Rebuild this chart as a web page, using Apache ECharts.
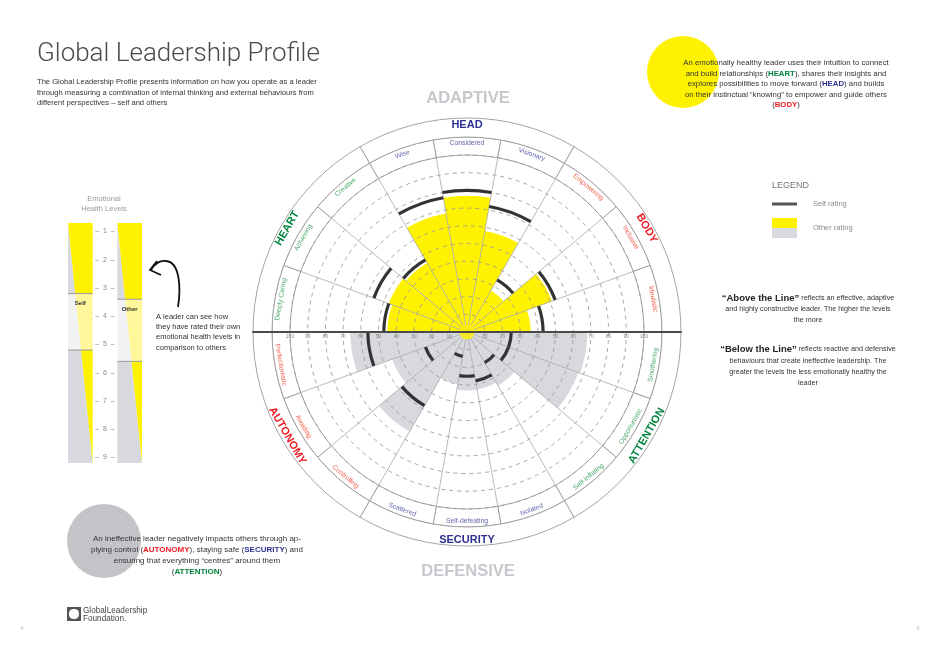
<!DOCTYPE html>
<html><head><meta charset="utf-8">
<script src="https://cdn.jsdelivr.net/npm/echarts@6.0.0/dist/echarts.min.js"></script>
<style>html,body{margin:0;padding:0;background:#fff}#c{width:940px;height:650px}</style>
</head><body><div id="c"></div>
<script>
// ---------------- DATA ----------------
const categories = ['Considered','Visionary','Empowering','Inclusive','Idealistic','Smothering','Opportunistic','Self-inflating','Isolated','Self-defeating','Scattered','Controlling','Avoiding','Perfectionistic','Deeply Caring','Achieving','Creative','Wise'];
const otherAbove = [77, 58, 27, 51, 36, '-', '-', '-', '-', '-', '-', '-', '-', '-', 45, 47, 45, 68];
const otherBelow = ['-', '-', '-', '-', '-', 68, 67, 35, 33, 33, 30, 65, 45, 66, '-', '-', '-', '-'];
const selfRating = [80, 72, 34, 53, 43, 25, 25, 20, 28, 25, 14, 48, 25, 56, 47, 56, 47, 77];
const groups = ['HEAD','BODY','ATTENTION','SECURITY','AUTONOMY','HEART'];
const radiusTicks = [10,20,30,40,50,60,70,80,90,100];
const levelTicks = [1,2,3,4,5,6,7,8,9];
const gaugeColumns = ['Self','Other'];
const gaugeBandTop = [3.2, 3.4];
const gaugeBandBottom = [5.2, 5.6];

// ---------------- STYLE ----------------
const FONT = '"Liberation Sans", Arial, Helvetica, sans-serif';
const YELLOW = '#fff200', GREY = '#d8d9de', DARK = '#333333';
const groupColors = ['#2e3192','#ed1c24','#00843d','#2e3192','#ed1c24','#00843d'];
const subColors = ['#6367ad','#f0604f','#4ea96e','#6367ad','#f0604f','#4ea96e'];
const CX = 467, CY = 332, R100 = 177, R_SUB = 195, R_OUT = 214;
const LEVEL_MIN = 0.7, LEVEL_MAX = 9.2;
const groupOf = i => Math.floor(((i + 1) % 18) / 3);

const chart = echarts.init(document.getElementById('c'), null, {renderer: 'canvas'});

function txt(x, y, text, size, color, opts) {
  opts = opts || {};
  return {
    type: 'text', x: x, y: y, silent: true, z: 20,
    style: Object.assign({
      text: text, fill: color,
      font: (opts.weight || 'normal') + ' ' + size + 'px ' + (opts.family || FONT),
      fontSize: size, fontFamily: opts.family || FONT, fontWeight: opts.weight || 'normal',
      align: opts.align || 'center', textAlign: opts.align || 'center',
      verticalAlign: 'middle', textVerticalAlign: 'middle'
    }, opts.rich ? {rich: opts.rich} : {})
  };
}
function richStyle(color, size) {
  return {fill: color, fontSize: size, fontFamily: FONT, fontWeight: 'bold'};
}
const R8 = {g: richStyle('#00843d', 8), b: richStyle('#2e3192', 8), r: richStyle('#ed1c24', 8)};
const R78 = {g: richStyle('#00843d', 7.8), b: richStyle('#2e3192', 7.8), r: richStyle('#ed1c24', 7.8)};
const RB = {h: {fill: '#222', fontSize: 9.5, fontFamily: FONT, fontWeight: 'bold'}};

const graphics = [
  txt(37, 54, 'Global Leadership Profile', 26, '#4a4a4a', {align: 'left', family: 'Roboto, ' + FONT, weight: '300'}),
  txt(37, 82, 'The Global Leadership Profile presents information on how you operate as a leader', 7.6, '#333', {align: 'left'}),
  txt(37, 92.5, 'through measuring a combination of internal thinking and external behaviours from', 7.6, '#333', {align: 'left'}),
  txt(37, 103, 'different perspectives – self and others', 7.6, '#333', {align: 'left'}),
  txt(CX + 1, 98, 'ADAPTIVE', 16.5, '#c6c8cd', {weight: 'bold'}),
  txt(CX + 1, 571, 'DEFENSIVE', 16.5, '#c6c8cd', {weight: 'bold'}),
  {type: 'circle', shape: {cx: 683, cy: 72, r: 36}, style: {fill: YELLOW}, z: 1, silent: true},
  txt(786, 63, 'An emotionally healthy leader uses their intuition to connect', 7.8, '#333'),
  txt(786, 73.5, 'and build relationships ({g|HEART}), shares their insights and', 7.8, '#333', {rich: R78}),
  txt(786, 84, 'explores possibilities to move forward ({b|HEAD}) and builds', 7.8, '#333', {rich: R78}),
  txt(786, 94.5, 'on their instinctual “knowing” to empower and guide others', 7.8, '#333'),
  txt(786, 105, '({r|BODY})', 7.8, '#333', {rich: R78}),
  {type: 'circle', shape: {cx: 104, cy: 541, r: 37}, style: {fill: '#c4c4c8'}, z: 1, silent: true},
  txt(197, 539, 'An ineffective leader negatively impacts others through ap-', 8, '#333'),
  txt(197, 550, 'plying control ({r|AUTONOMY}), staying safe ({b|SECURITY}) and', 8, '#333', {rich: R8}),
  txt(197, 561, 'ensuring that everything “centres” around them', 8, '#333'),
  txt(197, 571.5, '({g|ATTENTION})', 8, '#333', {rich: R8}),
  txt(772, 186, 'LEGEND', 9, '#777', {align: 'left'}),
  {type: 'line', shape: {x1: 772, y1: 204, x2: 797, y2: 204}, style: {stroke: '#555', lineWidth: 3}, silent: true},
  txt(813, 204, 'Self rating', 7.5, '#8a8a8a', {align: 'left'}),
  {type: 'rect', shape: {x: 772, y: 218, width: 25, height: 10}, style: {fill: YELLOW}, silent: true},
  {type: 'rect', shape: {x: 772, y: 228, width: 25, height: 10}, style: {fill: GREY}, silent: true},
  txt(813, 228, 'Other rating', 7.5, '#8a8a8a', {align: 'left'}),
  txt(808, 298, '{h|“Above the Line”} reflects an effective, adaptive', 7.2, '#333', {rich: RB}),
  txt(808, 309.5, 'and highly constructive leader. The higher the levels', 7.2, '#333'),
  txt(808, 320.5, 'the more', 7.2, '#333'),
  txt(808, 349.5, '{h|“Below the Line”} reflects reactive and defensive', 7.2, '#333', {rich: RB}),
  txt(808, 361, 'behaviours that create ineffective leadership. The', 7.2, '#333'),
  txt(808, 372, 'greater the levels the less emotionally healthy the', 7.2, '#333'),
  txt(808, 383, 'leader', 7.2, '#333'),
  txt(104, 199, 'Emotional', 7.5, '#9a9a9a'),
  txt(104, 209, 'Health Levels', 7.5, '#9a9a9a'),
  txt(156, 316.5, 'A leader can see how', 7.5, '#333', {align: 'left'}),
  txt(156, 327, 'they have rated their own', 7.5, '#333', {align: 'left'}),
  txt(156, 337, 'emotional health levels in', 7.5, '#333', {align: 'left'}),
  txt(156, 347.5, 'comparison to others', 7.5, '#333', {align: 'left'}),
  {type: 'bezierCurve', silent: true, shape: {x1: 178, y1: 307, cpx1: 181, cpy1: 288, cpx2: 180, cpy2: 262, x2: 166, y2: 261}, style: {fill: null, stroke: '#111', lineWidth: 1.8}},
  {type: 'bezierCurve', silent: true, shape: {x1: 166, y1: 261, cpx1: 160, cpy1: 260, cpx2: 154, cpy2: 264, x2: 151, y2: 270}, style: {fill: null, stroke: '#111', lineWidth: 1.8}},
  {type: 'polyline', silent: true, shape: {points: [[157, 261], [150, 270], [161, 275]]}, style: {fill: null, stroke: '#111', lineWidth: 1.8}},
  {type: 'rect', shape: {x: 67, y: 607, width: 14, height: 14}, style: {fill: '#555'}, silent: true},
  {type: 'rect', shape: {x: 69, y: 609, width: 10, height: 10, r: 4.5}, style: {fill: '#fff'}, silent: true},
  txt(83, 610.5, 'GlobalLeadership', 8.2, '#444', {align: 'left'}),
  txt(83, 618.5, 'Foundation.', 8.2, '#444', {align: 'left'}),
  txt(22, 628, '4', 6, '#bbb'),
  txt(918, 628, '5', 6, '#bbb')
];

const radiusLabelAxis = (polarIndex) => ({
  polarIndex: polarIndex, type: 'value', min: 0, max: 100 * R_OUT / R100, interval: 10, z: 10,
  axisLine: {show: true, lineStyle: {color: '#4a4a4a', width: 1.8}},
  axisTick: {show: false}, splitLine: {show: false},
  axisLabel: {show: true, fontSize: 5, color: '#8a8a8a', fontFamily: FONT, margin: polarIndex === 1 ? -2 : 2, verticalAlign: 'top',
    formatter: v => radiusTicks.indexOf(v) >= 0 ? String(v) : ''}
});

// "other" rating: one series, yellow above the line, grey below
const otherData = categories.map((c, i) => otherAbove[i] !== '-'
  ? {value: otherAbove[i], itemStyle: {color: YELLOW}}
  : {value: otherBelow[i], itemStyle: {color: GREY}});

const option = {
  animation: false,
  backgroundColor: '#fff',
  graphic: {elements: graphics},
  polar: [
    {center: [CX, CY], radius: R100},
    {center: [CX, CY], radius: R_OUT},
    {center: [CX, CY], radius: R_OUT},
    {center: [CX, CY], radius: R100}
  ],
  angleAxis: [
    {polarIndex: 0, type: 'category', data: categories, startAngle: 100, clockwise: true, z: 3,
      axisLine: {show: false}, axisTick: {show: false}, axisLabel: {show: false},
      splitLine: {show: true, lineStyle: {color: '#a8a8a8', width: 0.8}}},
    {polarIndex: 1, type: 'value', startAngle: 0, show: false},
    {polarIndex: 2, type: 'value', startAngle: 180, show: false},
    {polarIndex: 3, type: 'category', data: categories, startAngle: 100, clockwise: true, show: false}
  ],
  radiusAxis: [
    {polarIndex: 0, type: 'value', min: 0, max: 100, interval: 10, z: 3,
      axisLine: {show: false}, axisTick: {show: false}, axisLabel: {show: false},
      splitLine: {show: true, lineStyle: {color: '#9c9c9c', width: 0.9, type: [4, 4]}}},
    radiusLabelAxis(1),
    radiusLabelAxis(2),
    {polarIndex: 3, type: 'value', min: 0, max: 100, show: false}
  ],
  grid: [{left: 68, top: 223, width: 74, height: 240}],
  xAxis: [{type: 'value', gridIndex: 0, min: 0, max: 3, show: false}],
  yAxis: [{type: 'value', gridIndex: 0, min: LEVEL_MIN, max: LEVEL_MAX, inverse: true, show: false}],
  series: [
    {name: 'Other rating', type: 'bar', coordinateSystem: 'polar', polarIndex: 0, data: otherData, barWidth: '100%', barCategoryGap: '0%', silent: true, z: 2},
    {type: 'bar', coordinateSystem: 'polar', polarIndex: 3, data: selfRating.map(v => v - 0.9), stack: 'self', barWidth: '100%', barCategoryGap: '0%', itemStyle: {color: 'rgba(0,0,0,0)'}, silent: true, z: 4},
    {name: 'Self rating', type: 'bar', coordinateSystem: 'polar', polarIndex: 3, data: selfRating.map(() => 1.8), stack: 'self', barWidth: '100%', barCategoryGap: '0%', itemStyle: {color: DARK}, silent: true, z: 4},
    {type: 'scatter', coordinateSystem: 'polar', polarIndex: 0, data: [[0, 0]], symbolSize: 15, itemStyle: {color: YELLOW}, silent: true, z: 6},
    {type: 'pie', center: [CX, CY], radius: [R100, R_SUB], startAngle: 100, clockwise: true, silent: true, z: 1,
      avoidLabelOverlap: false, emphasis: {disabled: true},
      itemStyle: {color: '#fff', borderColor: '#9a9a9a', borderWidth: 0.9},
      label: {show: true, position: 'inside', rotate: 'tangential', fontSize: 6.8, fontFamily: FONT},
      labelLine: {show: false},
      data: categories.map((c, i) => ({value: 1, name: c, label: {color: subColors[groupOf(i)]}}))},
    {type: 'pie', center: [CX, CY], radius: [R_SUB, R_OUT], startAngle: 120, clockwise: true, silent: true, z: 1,
      avoidLabelOverlap: false, emphasis: {disabled: true},
      itemStyle: {color: '#fff', borderColor: '#9a9a9a', borderWidth: 0.9},
      label: {show: true, position: 'inside', rotate: 'tangential', fontSize: 11, fontWeight: 'bold', fontFamily: FONT},
      labelLine: {show: false},
      data: groups.map((g, i) => ({value: 1, name: g, label: {color: groupColors[i]}}))},
    {type: 'custom', coordinateSystem: 'cartesian2d', xAxisIndex: 0, yAxisIndex: 0, silent: true,
      encode: {x: [0, 1], y: [2, 3]},
      data: gaugeColumns.map((n, i) => [i * 2, i * 2 + 1, gaugeBandTop[i], gaugeBandBottom[i]]),
      renderItem: function (params, api) {
        const x0 = api.value(0), x1 = api.value(1), a = api.value(2), b = api.value(3);
        const bx = v => x0 + (v - LEVEL_MIN) / (LEVEL_MAX - LEVEL_MIN) * (x1 - x0);
        const P = (x, y) => api.coord([x, y]);
        const secs = [[LEVEL_MIN, a, GREY, YELLOW], [a, b, '#f2f2f4', '#fff79a'], [b, LEVEL_MAX, GREY, YELLOW]];
        const ch = [];
        secs.forEach(s => {
          ch.push({type: 'polygon', shape: {points: [P(x0, s[0]), P(bx(s[0]), s[0]), P(bx(s[1]), s[1]), P(x0, s[1])]}, style: {fill: s[2]}});
          ch.push({type: 'polygon', shape: {points: [P(bx(s[0]), s[0]), P(x1, s[0]), P(x1, s[1]), P(bx(s[1]), s[1])]}, style: {fill: s[3]}});
        });
        [a, b].forEach(v => {
          const p0 = P(x0, v), p1 = P(x1, v);
          ch.push({type: 'line', shape: {x1: p0[0], y1: p0[1], x2: p1[0], y2: p1[1]}, style: {stroke: '#9a9a9a', lineWidth: 1}});
        });
        const lp = P((x0 + x1) / 2, a + 0.35);
        ch.push({type: 'text', x: lp[0], y: lp[1], style: {text: gaugeColumns[params.dataIndex], fill: '#333', fontSize: 6, fontWeight: 'bold', fontFamily: FONT, align: 'center', verticalAlign: 'middle', textAlign: 'center', textVerticalAlign: 'middle'}});
        return {type: 'group', children: ch};
      }},
    {type: 'scatter', coordinateSystem: 'cartesian2d', xAxisIndex: 0, yAxisIndex: 0, silent: true,
      symbolSize: 0, data: levelTicks.map(v => [1.5, v]),
      label: {show: true, position: 'inside', formatter: p => '–  ' + p.value[1] + '  –', fontSize: 7, color: '#666', fontFamily: FONT}}
  ]
};
chart.setOption(option);
</script></body></html>
